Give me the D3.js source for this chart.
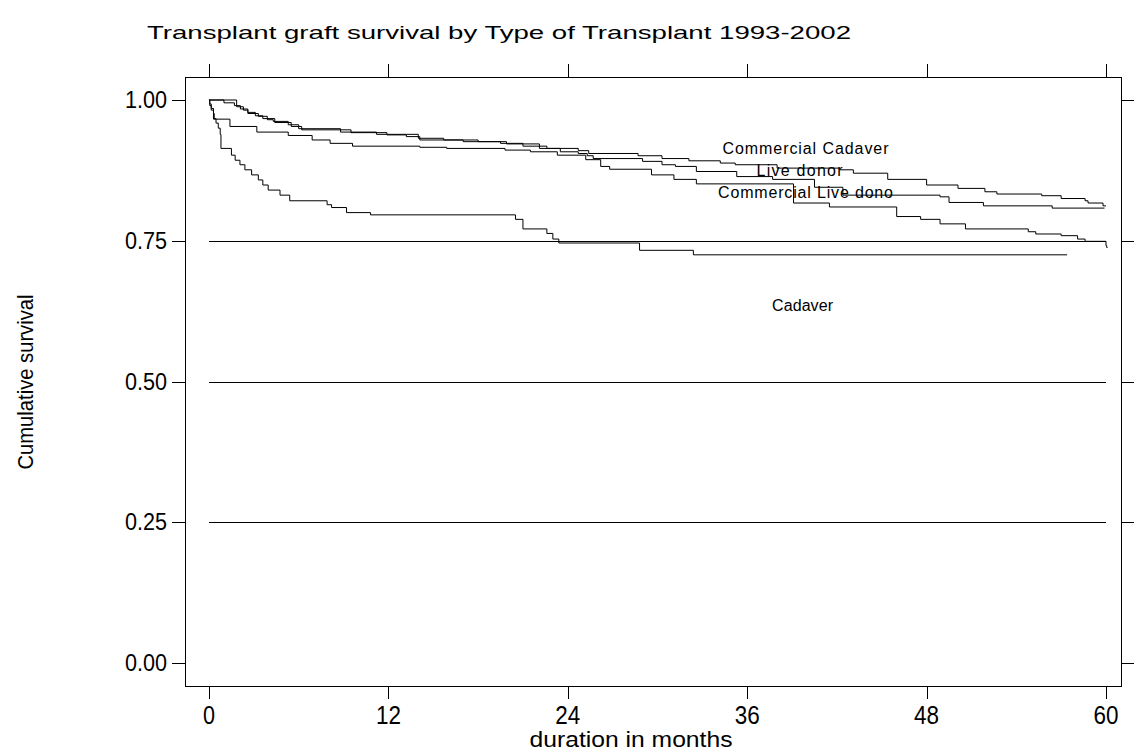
<!DOCTYPE html>
<html lang="en">
<head>
    <meta charset="utf-8">
    <script src="https://d3js.org/d3.v7.min.js"></script>
    <style>
        body { margin: 0; background: #fff; }
        text { font-family: "Liberation Sans", Arial, sans-serif; fill: #000; }
    </style>
</head>
<body>
<script type="text/javascript">

    // Kaplan-Meier steps: [month, cumulative survival]
    var commercialCadaver = [[0,1],[1.85,0.988],[2.3,0.982],[2.6,0.976],[3.3,0.971],[3.9,0.965],[4.3,0.962],
        [5.3,0.956],[6,0.949],[8.8,0.943],[11.2,0.939],[14,0.932],[15.7,0.929],[18,0.926],[19.9,0.922],
        [22.1,0.914],[24.7,0.910],[25.4,0.905],[28.7,0.901],[30.3,0.896],[32.1,0.892],[34.2,0.888],
        [35.2,0.885],[38,0.879],[42.2,0.876],[43.1,0.870],[45.4,0.859],[48,0.849],[50.1,0.843],
        [51.9,0.837],[52.7,0.833],[55.7,0.830],[57,0.825],[58.6,0.821],[58.8,0.817],[59.8,0.812]];
    var liveDonor = [[0,1],[1.0,0.995],[1.7,0.990],[2.1,0.984],[2.6,0.978],[3.1,0.972],[3.6,0.967],
        [4.4,0.960],[5.5,0.953],[6.2,0.947],[9.5,0.942],[11.9,0.938],[13.2,0.935],[14.1,0.929],
        [17,0.926],[19.5,0.923],[21,0.918],[22.6,0.914],[23.5,0.908],[24.7,0.905],[25.3,0.901],
        [25.7,0.896],[29,0.891],[30.3,0.885],[31.2,0.882],[32.6,0.873],[35.3,0.864],[37.7,0.859],
        [40.5,0.845],[42.4,0.831],[48.9,0.828],[49.5,0.818],[51.8,0.812],[56.4,0.808]];
    var commercialLiveDonor = [[0,1],[0.05,0.993],[0.15,0.985],[0.3,0.966],[1.4,0.953],[3.2,0.943],
        [5.3,0.937],[6.9,0.929],[8.1,0.923],[9.6,0.918],[14.1,0.916],[15.9,0.914],[19.8,0.911],
        [21.5,0.908],[23.3,0.902],[25.2,0.894],[26.2,0.882],[26.8,0.877],[29.6,0.867],[31.1,0.859],
        [32.6,0.851],[39.1,0.817],[41.5,0.810],[46,0.793],[47.6,0.788],[48.9,0.780],[50.6,0.771],
        [54.8,0.766],[55.3,0.762],[57,0.759],[58.1,0.753],[58.6,0.749],[60,0.741],[60.05,0.738]];
    var cadaver = [[0,1],[0.05,0.99],[0.15,0.982],[0.3,0.976],[0.35,0.967],[0.47,0.959],[0.62,0.95],
        [0.75,0.939],[0.8,0.914],[1.5,0.902],[1.75,0.893],[2.07,0.885],[2.4,0.876],[2.85,0.867],
        [3.3,0.858],[3.6,0.849],[3.96,0.840],[4.75,0.831],[5.4,0.821],[7.9,0.814],[8.2,0.809],
        [9.2,0.800],[10.8,0.796],[20.5,0.788],[21,0.771],[22.6,0.763],[23,0.753],[23.4,0.746],
        [28.8,0.733],[32.4,0.725]];

    var seriesNames = ["Commercial Cadaver", "Live donor", "Commercial Live dono", "Cadaver"];
    var seriesSteps = [commercialCadaver, liveDonor, commercialLiveDonor, cadaver];
    var lastFollowUp = [60, 59.9, 60.1, 57.4];
    // where each group label sits (month, survival)
    var labelAt = [[39.9, 0.915], [39.5, 0.876], [39.9, 0.837], [39.7, 0.636]];

    var xTicks = [0, 12, 24, 36, 48, 60];
    var yTicks = [0, 0.25, 0.5, 0.75, 1];
    var refLines = [0.25, 0.5, 0.75];

    var W = 1139, H = 752;
    var frame = {left: 185, right: 1121, top: 77, bottom: 686};

    var svg = d3.select("body").append("svg")
        .attr("width", W)
        .attr("height", H);

    var x = d3.scaleLinear().domain([0, 60]).range([209, 1106]);
    var y = d3.scaleLinear().domain([0, 1]).range([663, 100]);

    // plot frame
    svg.append("rect")
        .attr("x", frame.left + 0.5)
        .attr("y", frame.top + 0.5)
        .attr("width", frame.right - frame.left)
        .attr("height", frame.bottom - frame.top)
        .attr("fill", "none")
        .attr("stroke", "#000")
        .attr("stroke-width", 1);

    // ticks on all four sides
    var tickLen = 13;
    svg.append("g").selectAll("line").data(xTicks).enter().append("line")
        .attr("x1", function(d){ return Math.round(x(d)) + 0.5; })
        .attr("x2", function(d){ return Math.round(x(d)) + 0.5; })
        .attr("y1", frame.bottom).attr("y2", frame.bottom + tickLen)
        .attr("stroke", "#000");
    svg.append("g").selectAll("line").data(xTicks).enter().append("line")
        .attr("x1", function(d){ return Math.round(x(d)) + 0.5; })
        .attr("x2", function(d){ return Math.round(x(d)) + 0.5; })
        .attr("y1", frame.top - tickLen).attr("y2", frame.top)
        .attr("stroke", "#000");
    svg.append("g").selectAll("line").data(yTicks).enter().append("line")
        .attr("y1", function(d){ return Math.round(y(d)) + 0.5; })
        .attr("y2", function(d){ return Math.round(y(d)) + 0.5; })
        .attr("x1", frame.left - tickLen).attr("x2", frame.left)
        .attr("stroke", "#000");
    svg.append("g").selectAll("line").data(yTicks).enter().append("line")
        .attr("y1", function(d){ return Math.round(y(d)) + 0.5; })
        .attr("y2", function(d){ return Math.round(y(d)) + 0.5; })
        .attr("x1", frame.right).attr("x2", frame.right + tickLen)
        .attr("stroke", "#000");

    // tick labels
    svg.append("g").selectAll("text").data(yTicks).enter().append("text")
        .attr("x", 167)
        .attr("y", function(d){ return y(d) + 8; })
        .attr("text-anchor", "end")
        .attr("font-size", 23)
        .attr("textLength", 42)
        .attr("lengthAdjust", "spacingAndGlyphs")
        .text(function(d){ return d3.format(".2f")(d); });

    svg.append("g").selectAll("text").data(xTicks).enter().append("text")
        .attr("x", function(d){ return x(d); })
        .attr("y", 724)
        .attr("text-anchor", "middle")
        .attr("font-size", 25)
        .attr("textLength", function(d){ return d < 10 ? 12 : 25; })
        .attr("lengthAdjust", "spacingAndGlyphs")
        .text(function(d){ return d; });

    // reference lines
    svg.append("g").selectAll("line").data(refLines).enter().append("line")
        .attr("x1", x(0)).attr("x2", x(60))
        .attr("y1", function(d){ return Math.round(y(d)) + 0.5; })
        .attr("y2", function(d){ return Math.round(y(d)) + 0.5; })
        .attr("stroke", "#000");

    // survival curves
    var line = d3.line()
        .x(function(d){ return x(d[0]); })
        .y(function(d){ return y(d[1]); })
        .curve(d3.curveStepAfter);

    svg.append("g").selectAll("path").data(seriesSteps).enter().append("path")
        .attr("d", function(d, i){
            var pts = d.slice();
            pts.push([lastFollowUp[i], d[d.length - 1][1]]);
            return line(pts);
        })
        .attr("fill", "none")
        .attr("stroke", "#000")
        .attr("stroke-width", 1);

    // group labels
    var labelWidths = [166, 86, 175, 61];
    svg.append("g").selectAll("text").data(seriesNames).enter().append("text")
        .attr("x", function(d, i){ return x(labelAt[i][0]); })
        .attr("y", function(d, i){ return y(labelAt[i][1]) + 6; })
        .attr("text-anchor", "middle")
        .attr("font-size", 16)
        .attr("textLength", function(d, i){ return labelWidths[i]; })
        .attr("lengthAdjust", "spacing")
        .text(function(d){ return d; });

    // titles
    svg.append("text")
        .attr("x", 147)
        .attr("y", 39)
        .attr("font-size", 19)
        .attr("textLength", 704)
        .attr("lengthAdjust", "spacingAndGlyphs")
        .text("Transplant graft survival by Type of Transplant 1993-2002");

    svg.append("text")
        .attr("x", 631)
        .attr("y", 747)
        .attr("text-anchor", "middle")
        .attr("font-size", 22)
        .attr("textLength", 203)
        .attr("lengthAdjust", "spacingAndGlyphs")
        .text("duration in months");

    svg.append("text")
        .attr("transform", "translate(33,382) rotate(-90)")
        .attr("text-anchor", "middle")
        .attr("font-size", 22)
        .attr("textLength", 175)
        .attr("lengthAdjust", "spacingAndGlyphs")
        .text("Cumulative survival");

</script>
</body>
</html>
